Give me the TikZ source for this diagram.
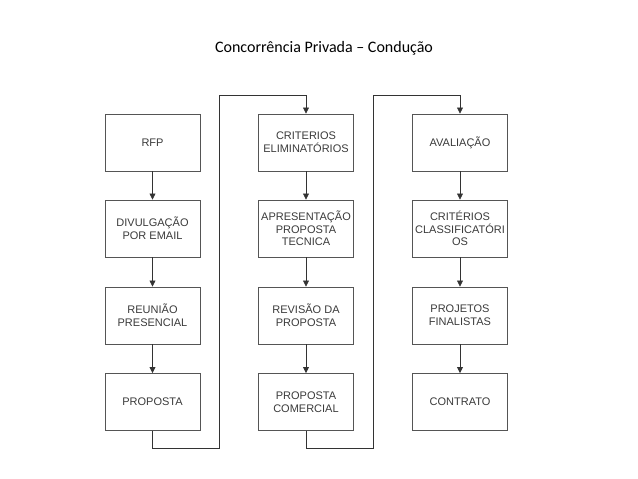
\documentclass[tikz,border=0pt]{standalone}
\usepackage{fontspec}
\setmainfont{Liberation Sans}
\newfontfamily\titlefont{Carlito}
\usetikzlibrary{arrows.meta}
\definecolor{boxline}{HTML}{555555}
\definecolor{boxtext}{HTML}{3A3A3A}
\begin{document}
\begin{tikzpicture}[x=1pt,y=-1pt,
  stepbox/.style={draw=boxline,line width=0.9pt,minimum width=95pt,minimum height=57pt,
    inner sep=1pt,align=center,text=boxtext,font=\fontsize{11}{12.6}\selectfont},
  conn/.style={draw=black!80,line width=0.7pt},
  arr/.style={conn,-{Triangle[length=6pt,width=6pt]}}]
\useasboundingbox (0,0) rectangle (638,479);
\node[font=\titlefont\fontsize{16}{19}\selectfont] (title) at (324,48) {Concorrência Privada – Condução};
% column 1
\node[stepbox] (a1) at (152.5,142.5) {RFP};
\node[stepbox] (a2) at (152.5,228.5) {DIVULGAÇÃO\\POR EMAIL};
\node[stepbox] (a3) at (152.5,315.5) {REUNIÃO\\PRESENCIAL};
\node[stepbox] (a4) at (152.5,402) {PROPOSTA};
% column 2
\node[stepbox] (b1) at (306,142.5) {CRITERIOS\\ELIMINATÓRIOS};
\node[stepbox] (b2) at (306,228.5) {APRESENTAÇÃO\\PROPOSTA\\TECNICA};
\node[stepbox] (b3) at (306,315.5) {REVISÃO DA\\PROPOSTA};
\node[stepbox] (b4) at (306,402) {PROPOSTA\\COMERCIAL};
% column 3
\node[stepbox] (c1) at (460,142.5) {AVALIAÇÃO};
\node[stepbox] (c2) at (460,228.5) {CRITÉRIOS\\CLASSIFICATÓRI\\OS};
\node[stepbox] (c3) at (460,315.5) {PROJETOS\\FINALISTAS};
\node[stepbox] (c4) at (460,402) {CONTRATO};
\foreach \c in {a,b,c}{
  \draw[arr] (\c1) -- (\c2);
  \draw[arr] (\c2) -- (\c3);
  \draw[arr] (\c3) -- (\c4);
}
\coordinate (p1) at (219,448);
\coordinate (p2) at (219,95);
\coordinate (q1) at (373,448);
\coordinate (q2) at (373,95);
\draw[arr] (a4.south) |- (p1) -- (p2) -| (b1.north);
\draw[arr] (b4.south) |- (q1) -- (q2) -| (c1.north);
\end{tikzpicture}
\end{document}
